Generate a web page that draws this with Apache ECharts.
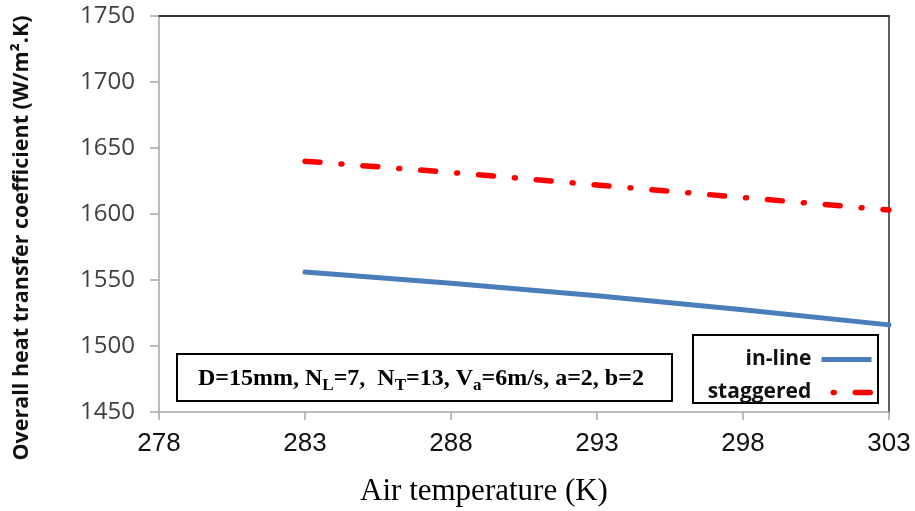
<!DOCTYPE html>
<html>
<head>
<meta charset="utf-8">
<script src="https://cdn.jsdelivr.net/npm/echarts@6/dist/echarts.min.js"></script>
<style>html,body{margin:0;padding:0;background:#fff}#c{width:915px;height:511px}</style>
</head>
<body>
<div id="c"></div>
<script>
const temperatures = [283, 288, 293, 298, 303];
const inLine = [1556, 1547.5, 1538, 1527.5, 1516];
const staggered = [1640, 1631.5, 1622, 1612.5, 1603];
const seriesNames = ['in-line', 'staggered'];
const xTicks = {min: 278, max: 303, step: 5};
const yTicks = {min: 1450, max: 1750, step: 50};
const xTitle = 'Air temperature (K)';
const yTitle = 'Overall heat transfer coefficient (W/m\u00B2.K)';

const chart = echarts.init(document.getElementById('c'));
const pairs = (ys) => temperatures.map((t, i) => [t, ys[i]]);
const redDash = [15, 21, 1, 21];
const blue = '#4a7ebb';

const baseAxis = {
  type: 'value', min: xTicks.min, max: xTicks.max, interval: xTicks.step,
  splitLine: {show: false}
};
const baseY = {
  type: 'value', min: yTicks.min, max: yTicks.max, interval: yTicks.step,
  splitLine: {show: false}
};
const legendText = {fontFamily: 'Open Sans', fontWeight: 'bold', fontSize: 21, color: '#111', padding: [0, 5, 0, 0]};

chart.setOption({
  animation: false,
  grid: {left: 159, right: 26, top: 16, bottom: 99, containLabel: false},
  xAxis: [
    Object.assign({}, baseAxis, {
      position: 'bottom',
      axisLine: {onZero: false, lineStyle: {color: '#a6a6a6', width: 1.5}},
      axisTick: {length: 8, lineStyle: {color: '#a6a6a6', width: 1.5}},
      axisLabel: {margin: 19, fontFamily: 'Liberation Sans', fontSize: 26, color: '#111',
                  formatter: (v) => String(v)}
    }),
    Object.assign({}, baseAxis, {
      position: 'top',
      axisLine: {onZero: false, lineStyle: {color: '#333', width: 2}},
      axisTick: {show: false}, axisLabel: {show: false}
    })
  ],
  yAxis: [
    Object.assign({}, baseY, {
      position: 'left',
      axisLine: {show: true, onZero: false, lineStyle: {color: '#a6a6a6', width: 1.5}},
      axisTick: {show: true, length: 9, lineStyle: {color: '#a6a6a6', width: 1.5}},
      axisLabel: {margin: 24, fontFamily: 'Open Sans', fontSize: 24, color: '#404040',
                  formatter: (v) => String(v)}
    }),
    Object.assign({}, baseY, {
      position: 'right',
      axisLine: {show: true, onZero: false, lineStyle: {color: '#606060', width: 2}},
      axisTick: {show: false}, axisLabel: {show: false}
    })
  ],
  legend: [
    {
      data: [{name: seriesNames[0], lineStyle: {type: 'solid', width: 5, color: blue, cap: 'butt'}}],
      orient: 'vertical', align: 'right',
      right: 41, top: 349, padding: 0, itemWidth: 50, itemHeight: 20, z: 10,
      itemStyle: {opacity: 0},
      textStyle: legendText
    },
    {
      data: [{name: seriesNames[1], lineStyle: {type: redDash, dashOffset: 24, cap: 'round', width: 5.5, color: '#ff0000'}}],
      orient: 'vertical', align: 'right',
      right: 41, top: 382, padding: 0, itemWidth: 50, itemHeight: 20, z: 10,
      itemStyle: {opacity: 0},
      textStyle: legendText
    }
  ],
  graphic: [
    {type: 'rect', z: 5, shape: {x: 177, y: 354, width: 495, height: 47},
     style: {fill: '#fff', stroke: '#000', lineWidth: 2}},
    {type: 'rect', z: 5, shape: {x: 693, y: 335, width: 185, height: 68},
     style: {fill: '#fff', stroke: '#000', lineWidth: 2}},
    {type: 'text', z: 6, x: 198, y: 379,
     style: {
       text: '{m|D=15mm, N}{s|L}{m|=7,  N}{s|T}{m|=13, V}{s|a}{m|=6m/s, a=2, b=2}',
       textVerticalAlign: 'middle', textAlign: 'left',
       rich: {
         m: {fontFamily: 'Liberation Serif', fontWeight: 'bold', fontSize: 24, lineHeight: 30, color: '#000'},
         s: {fontFamily: 'Liberation Serif', fontWeight: 'bold', fontSize: 17, lineHeight: 17, verticalAlign: 'bottom', color: '#000'}
       }
     }},
    {type: 'text', x: 22, y: 238, rotation: Math.PI / 2,
     style: {text: yTitle, fontFamily: 'Open Sans', fontWeight: 'bold', fontSize: 21.5, fill: '#111',
             textAlign: 'center', textVerticalAlign: 'middle'}},
    {type: 'text', x: 484, y: 492,
     style: {text: xTitle, fontFamily: 'Liberation Serif', fontSize: 31, fill: '#000',
             textAlign: 'center', textVerticalAlign: 'middle'}}
  ],
  series: [
    {name: seriesNames[0], type: 'line', data: pairs(inLine), symbol: 'none',
     lineStyle: {color: blue, width: 5, cap: 'round'}, itemStyle: {color: blue}},
    {name: seriesNames[1], type: 'line', data: pairs(staggered), symbol: 'none',
     lineStyle: {color: '#ff0000', width: 5.5, type: redDash, cap: 'round'}, itemStyle: {color: '#ff0000'}}
  ]
});
</script>
</body>
</html>
